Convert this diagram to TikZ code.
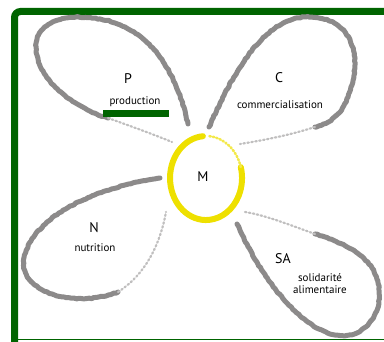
\documentclass[tikz,border=0pt]{standalone}
\usepackage{fontspec}
\setmainfont{PT Sans}
\usepackage{tikz}
\usetikzlibrary{decorations.pathmorphing}
\definecolor{fgreen}{HTML}{006400}
\definecolor{fgray}{HTML}{8C8A8A}
\definecolor{fyellow}{HTML}{EEE000}
\tikzset{
  chalk/.style   = {draw=fgray, line width=5pt, line cap=round, line join=round,
                    decorate, decoration={random steps, segment length=2.5pt,
                    amplitude=0.5pt}},
  faded/.style   = {draw=fgray!55, line width=2.2pt, line cap=round,
                    dash pattern=on 1.5pt off 2.5pt},
  ring/.style    = {draw=fyellow, line width=6pt, line cap=round},
  initial/.style = {font=\fontsize{14}{14}\selectfont, inner sep=0pt},
  word/.style    = {font=\fontsize{11}{12.5}\selectfont, inner sep=0pt, align=center},
}

\begin{document}
\begin{tikzpicture}[x=1pt, y=-1pt]
\useasboundingbox (0,0) rectangle (384,342);
% ---------- frame ----------
\draw[fgreen, line width=7pt, rounded corners=6pt] (392,11.5) -- (14.5,11.5) -- (14.5,350);
\draw[fgreen, line width=1.2pt] (14.5,339.8) -- (390,339.8);
% ---------- P petal ----------
\draw[chalk] (188,124) .. controls (178,80) and (155,28) .. (100,19)
  .. controls (60,12) and (30,25) .. (37,55)
  .. controls (42,85) and (80,110) .. (108,118);
\draw[faded] (108,118) .. controls (130,126) and (150,133) .. (172,142);
% ---------- C petal ----------
\draw[chalk] (209,127) .. controls (230,80) and (260,20) .. (305,17)
  .. controls (345,15) and (362,45) .. (352,85)
  .. controls (345,110) and (335,122) .. (315,127);
\draw[faded] (315,127) .. controls (290,135) and (265,140) .. (240,144);
% ---------- N petal ----------
\draw[chalk] (160,178) .. controls (110,185) and (35,210) .. (24,258)
  .. controls (18,290) and (70,310) .. (118,292);
\draw[faded] (118,292) .. controls (145,275) and (160,245) .. (166,212);
% ---------- SA petal ----------
\draw[chalk] (237,224) .. controls (255,265) and (290,320) .. (330,334)
  .. controls (370,345) and (392,300) .. (372,268)
  .. controls (360,250) and (335,240) .. (315,234);
\draw[faded] (315,234) .. controls (290,225) and (265,215) .. (245,212);
% ---------- M ring ----------
\draw[ring] (202.9,136.2) arc[start angle=265, end angle=-15, x radius=36, y radius=42];
\draw[fyellow!70, line width=2.5pt, line cap=round, dash pattern=on 1.5pt off 2pt]
  (240.8,167.1) arc[start angle=-15, end angle=-85, x radius=36, y radius=42];
% ---------- labels ----------
\node[initial] (P) at (128,79) {P};
\node[word] (prod) at (135,102) {production};
\fill[fgreen] (103,110) rectangle (169,117);
\node[initial] (C) at (279,77.5) {C};
\node[word] (comm) at (280,105) {commercialisation};
\node[initial] (N) at (94,228) {N};
\node[word] (nutr) at (95,248) {nutrition};
\node[initial] (SA) at (283,259) {SA};
\node[word] (sol) at (320,283.5) {solidarité\\alimentaire};
\node[initial] (M) at (203,177) {M};
\end{tikzpicture}
\end{document}
